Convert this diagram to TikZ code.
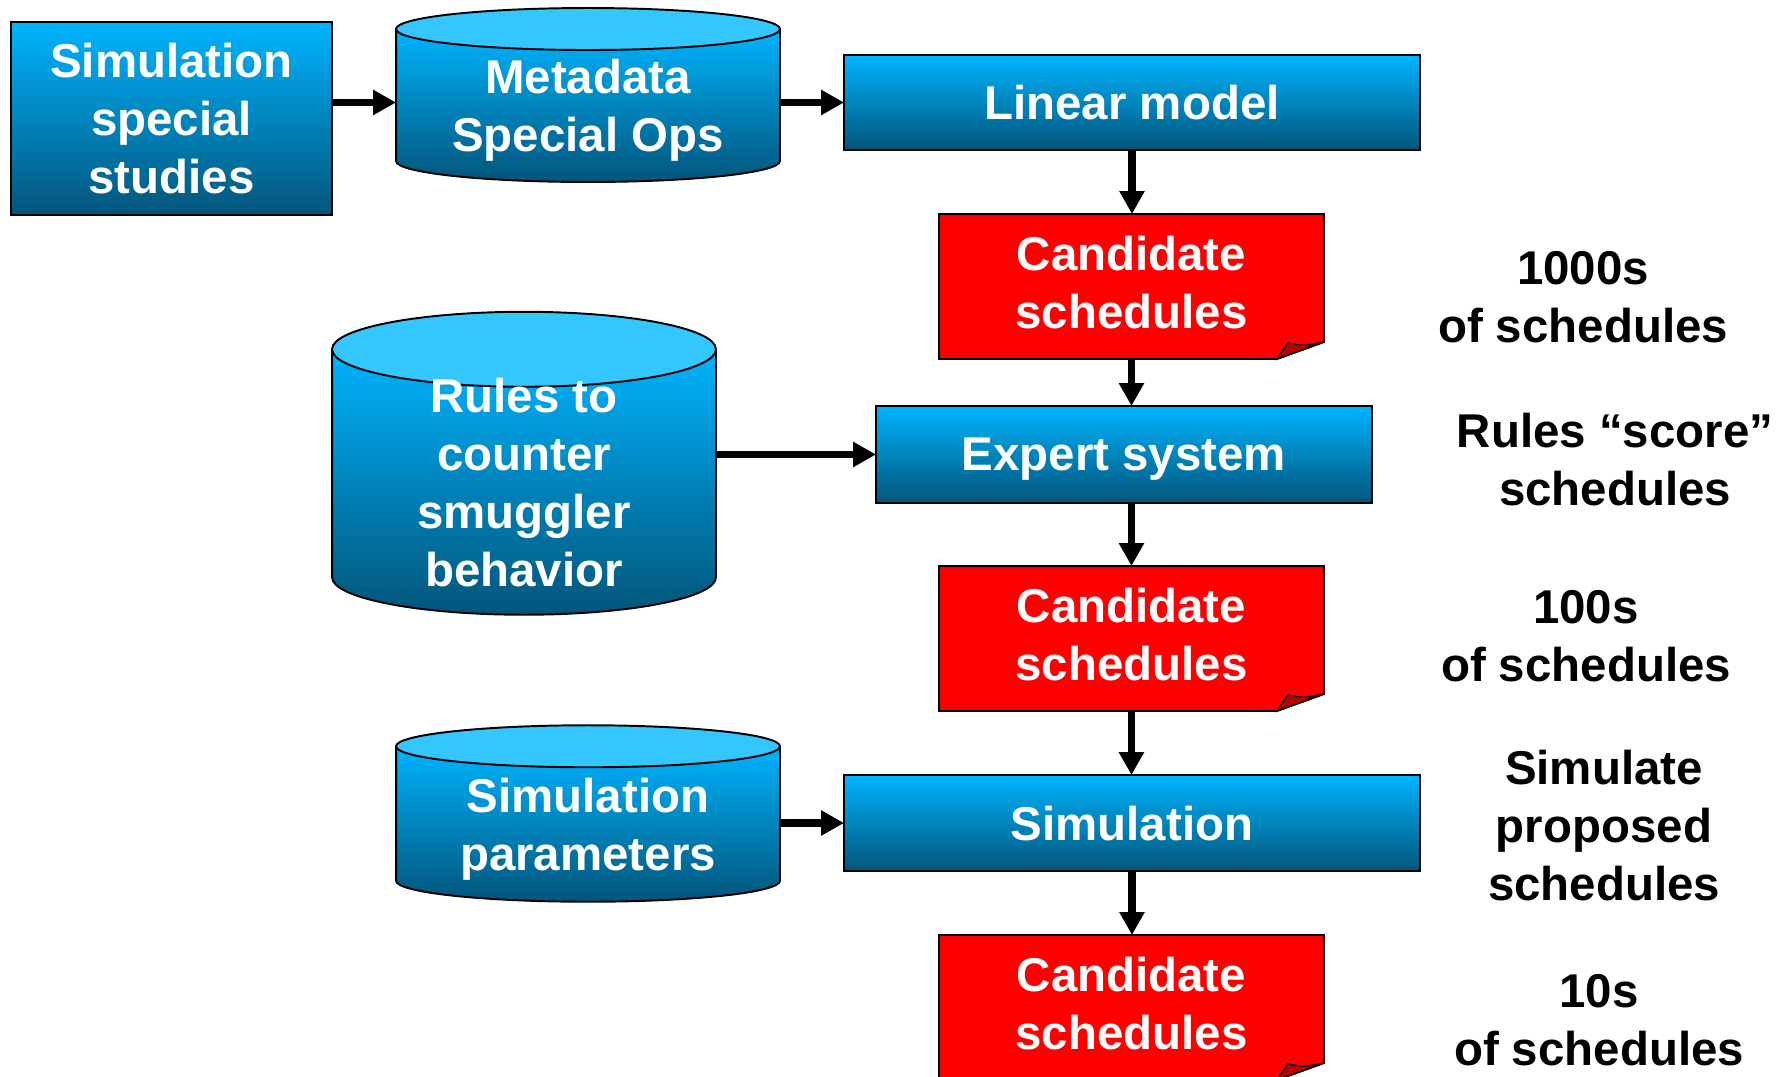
\documentclass[tikz,border=0pt]{standalone}
\usepackage{fontspec}
\setmainfont{Liberation Sans}
\usetikzlibrary{arrows.meta,backgrounds}
\definecolor{skytop}{HTML}{00B4FF}
\definecolor{deepsea}{HTML}{02557A}
\definecolor{lidcyan}{HTML}{33C6FF}
\definecolor{flagred}{HTML}{FF0000}
\definecolor{curlred}{HTML}{C00000}
\tikzset{
    boxfont/.style={font=\fontsize{27}{33}\selectfont\bfseries},
    stepbox/.style={draw=black,line width=1.1pt,top color=skytop,bottom color=deepsea,
      text=white,boxfont,align=center,inner sep=0pt,outer sep=0pt,text depth=0pt},
    dbnode/.style={minimum width=7.68cm,inner sep=0pt,outer sep=0pt,
      text=white,boxfont,align=center,text depth=0pt},
    dbbody/.style={draw=black,line width=1.1pt,top color=skytop,bottom color=deepsea},
    dblid/.style={draw=black,line width=1.1pt,fill=lidcyan},
    docnode/.style={minimum width=7.7cm,minimum height=2.9cm,inner sep=0pt,outer sep=0pt,
      text=white,boxfont,align=center,text depth=0.18cm},
    docsheet/.style={draw=black,line width=1.1pt,fill=flagred},
    doccurl/.style={draw=black,line width=0.8pt,fill=curlred},
    sidenote/.style={boxfont,text=black,align=center},
    flowarrow/.style={-{Triangle[length=0.46cm,width=0.48cm]},draw=black,
      line width=4pt}
}
\begin{document}
\begin{tikzpicture}[x=0.02cm,y=-0.02cm]
  \useasboundingbox (0,0) rectangle (1783,1076);
  % process boxes
  \node[stepbox,minimum width=6.42cm,minimum height=3.86cm] (simstudy) at (171.5,118.5) {Simulation\\special\\studies};
  \node[stepbox,minimum width=11.52cm,minimum height=1.9cm] (linmodel) at (1132,102.5) {Linear model};
  \node[stepbox,minimum width=9.92cm,minimum height=1.94cm] (expert) at (1124,454.5) {Expert system};
  \node[stepbox,minimum width=11.52cm,minimum height=1.92cm] (simrun) at (1132,823) {Simulation};
  % data stores
  \node[dbnode,minimum height=3.06cm] (meta) at (588,105.5) {Metadata\\Special Ops};
  \node[dbnode,minimum height=5.31cm] (rules) at (524,482) {Rules to\\counter\\smuggler\\behavior};
  \node[dbnode,minimum height=3.11cm] (simpar) at (588,824) {Simulation\\parameters};
  % candidate lists
  \foreach \i/\y in {1/286.5,2/638.5,3/1007.5}
    \node[docnode] (cand\i) at (1131.5,\y) {Candidate\\schedules};
  % notes on the right
  \node[sidenote] (note1) at (1583,297) {1000s\\of schedules};
  \node[sidenote] (note2) at (1615,460) {Rules “score”\\schedules};
  \node[sidenote] (note3) at (1586,636) {100s\\of schedules};
  \node[sidenote] (note4) at (1604,826) {Simulate\\proposed\\schedules};
  \node[sidenote] (note5) at (1599,1020) {10s\\of schedules};

  \begin{scope}[on background layer]
    \foreach \n/\ry in {meta/0.42cm,rules/0.75cm,simpar/0.42cm} {
      \path[dbbody] (\n.north west) -- ([yshift=\ry]\n.south west)
        arc[start angle=180,end angle=360,x radius=3.84cm,y radius=\ry]
        -- (\n.north east) -- cycle;
      \path[dblid] (\n.north) ellipse[x radius=3.84cm,y radius=\ry];
    }
    \foreach \i in {1,2,3} {
      \path[docsheet] (cand\i.north west) -- (cand\i.north east)
        -- ([yshift=0.34cm]cand\i.south east) -- ([xshift=-0.94cm]cand\i.south east)
        -- (cand\i.south west) -- cycle;
      \path[doccurl] ([xshift=-0.94cm]cand\i.south east)
        -- ([xshift=-0.72cm,yshift=0.32cm]cand\i.south east)
        .. controls ([xshift=-0.4cm,yshift=0.26cm]cand\i.south east) .. ([yshift=0.34cm]cand\i.south east)
        -- cycle;
    }
  \end{scope}

  \draw[flowarrow] (simstudy.east |- linmodel.west) -- (meta.west |- linmodel.west);
  \draw[flowarrow] (meta.east |- linmodel.west) -- (linmodel.west);
  \draw[flowarrow] (linmodel.south) -- (linmodel.south |- cand1.north);
  \draw[flowarrow] (cand1.south) -- (cand1.south |- expert.north);
  \draw[flowarrow] (rules.east |- expert.west) -- (expert.west);
  \draw[flowarrow] (cand2.north |- expert.south) -- (cand2.north);
  \draw[flowarrow] (cand2.south) -- (cand2.south |- simrun.north);
  \draw[flowarrow] (simpar.east |- simrun.west) -- (simrun.west);
  \draw[flowarrow] (simrun.south) -- (simrun.south |- cand3.north);
\end{tikzpicture}
\end{document}
